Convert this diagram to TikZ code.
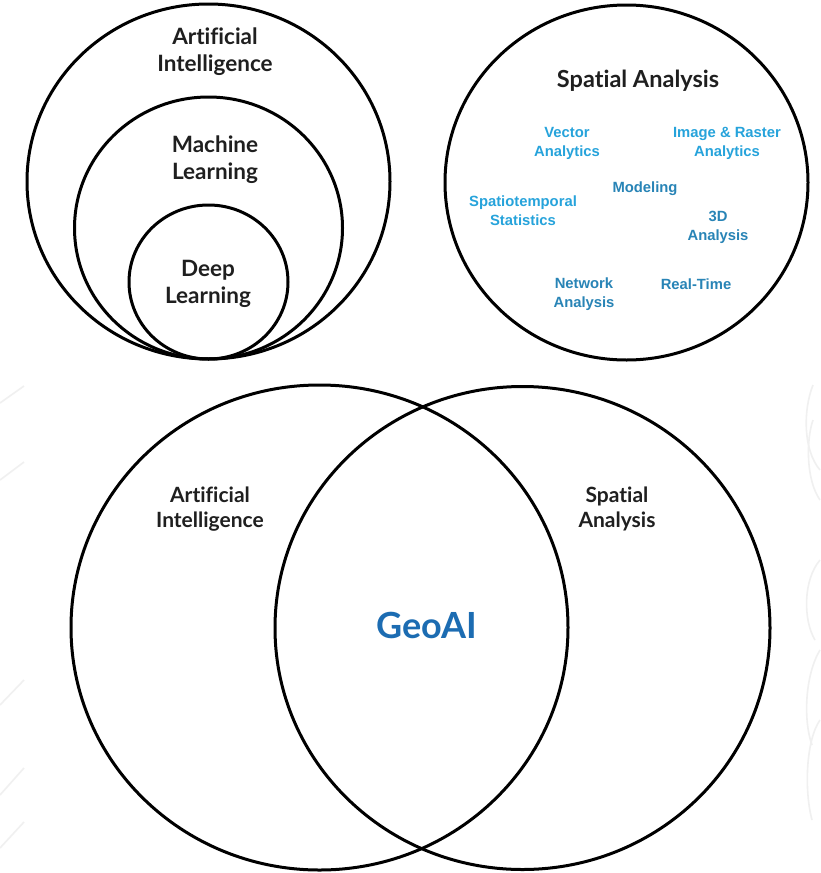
\documentclass[tikz,border=0pt]{standalone}
\usepackage{fontspec}
\setmainfont{Lato}[Ligatures=NoCommon]
\newfontfamily\arialb{Liberation Sans}
\usetikzlibrary{shapes.geometric}
\definecolor{lightblue}{RGB}{38,163,219}
\definecolor{darkblue}{RGB}{40,132,182}
\definecolor{geoblue}{RGB}{28,108,178}
\definecolor{faint}{RGB}{240,240,240}
\tikzset{
  ring/.style={draw=black, line width=3pt, ellipse, inner sep=0pt},
  bigtxt/.style={font=\fontsize{22.5}{27}\selectfont\bfseries, align=center, text=black!88},
  midtxt/.style={font=\fontsize{21}{25.5}\selectfont\bfseries, align=center, text=black!88},
  bluetxt/.style={font=\arialb\fontsize{14.8}{19}\selectfont\bfseries, align=center, text=lightblue},
  dbluetxt/.style={bluetxt, text=darkblue},
  wm/.style={draw=faint, line width=1.6pt}
}
\begin{document}
\begin{tikzpicture}[x=1pt,y=-1pt]
\useasboundingbox (0,0) rectangle (820,873);
\fill[white] (0,0) rectangle (820,873);
% faint watermark strokes at the edges
\draw[wm] (0,403) -- (24,386);
\draw[wm] (0,480) -- (24,462);
\draw[wm] (0,705) -- (24,680);
\draw[wm] (0,795) -- (24,768);
\draw[wm] (0,848) -- (24,822);
\draw[wm] (813,385) .. controls (803,410) and (803,450) .. (820,470);
\draw[wm] (813,420) .. controls (806,440) and (806,480) .. (820,500);
\draw[wm] (820,560) .. controls (803,580) and (803,620) .. (815,640);
\draw[wm] (820,650) .. controls (805,675) and (803,720) .. (812,745);
\draw[wm] (820,720) .. controls (806,740) and (804,790) .. (812,820);
% top left nested circles
\node[ring, minimum width=363pt, minimum height=355pt] (ai) at (208.5,181.5) {};
\node[ring, minimum width=268pt, minimum height=262pt] (ml) at (208.5,228) {};
\node[ring, minimum width=159pt, minimum height=154pt] (dl) at (208.5,282) {};
\node[bigtxt] (tai) at (215,52) {Artificial\\Intelligence};
\node[bigtxt] (tml) at (215,160) {Machine\\Learning};
\node[bigtxt] (tdl) at (208,284) {Deep\\Learning};
% top right circle
\node[ring, minimum width=363pt, minimum height=355pt] (sa) at (626.5,182.5) {};
\node[font=\fontsize{23.5}{28}\selectfont\bfseries, text=black!88] (tsa) at (638,81) {Spatial Analysis};
\node[bluetxt] (va) at (567,143.5) {Vector\\Analytics};
\node[bluetxt] (ira) at (727,143.5) {Image \& Raster\\Analytics};
\node[dbluetxt] (mod) at (645,189) {Modeling};
\node[bluetxt] (sts) at (523,211) {Spatiotemporal\\Statistics};
\node[dbluetxt] (d3) at (718,227.5) {3D\\Analysis};
\node[dbluetxt] (net) at (584,294) {Network\\Analysis};
\node[dbluetxt] (rt) at (696,284) {Real-Time};
% bottom Venn
\node[ring, minimum width=497pt, minimum height=485pt] (vai) at (319.5,627.5) {};
\node[ring, minimum width=495pt, minimum height=483pt] (vsa) at (522.5,628) {};
\node[midtxt] (tvai) at (210,509) {Artificial\\Intelligence};
\node[midtxt] (tvsa) at (617,509) {Spatial\\Analysis};
\node[font=\fontsize{36}{40}\selectfont\bfseries, text=geoblue] (geo) at (427,625) {GeoAI};
\end{tikzpicture}
\end{document}
